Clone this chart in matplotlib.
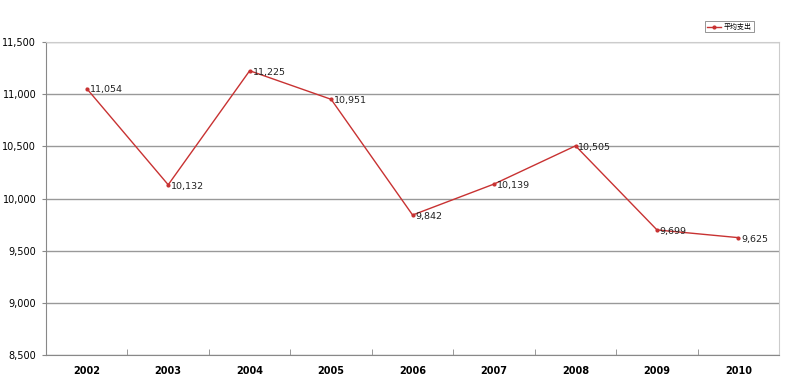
import matplotlib
matplotlib.use("Agg")
import matplotlib.pyplot as plt
from matplotlib.ticker import FuncFormatter, FixedLocator

plt.rcParams['font.family'] = ['DejaVu Sans', 'Noto Sans CJK SC']

years = ["2002", "2003", "2004", "2005", "2006", "2007", "2008", "2009", "2010"]
values = [11054, 10132, 11225, 10951, 9842, 10139, 10505, 9699, 9625]
series_name = "平均支出"

fig = plt.figure(figsize=(8, 3.84), dpi=100)
ax = fig.add_axes([0.0575, 0.0755, 0.9165, 0.815])

x = list(range(len(years)))
ax.plot(x, values, color="#c83232", lw=1.0, marker="o", ms=2, label=series_name, zorder=3)
for xi, v in zip(x, values):
    ax.annotate(f"{v:,}", (xi, v), xytext=(2, -1), textcoords="offset points",
                fontsize=6.8, ha="left", va="center", color="#222222", zorder=4)

ax.set_xlim(-0.5, len(years) - 0.5)
ax.set_ylim(8500, 11500)
ax.set_yticks(range(8500, 11501, 500))
ax.yaxis.set_major_formatter(FuncFormatter(lambda v, p: f"{int(v):,}"))
ax.yaxis.grid(True, color="#999999", lw=1.0)
ax.set_axisbelow(True)

ax.set_xticks(x)
ax.set_xticklabels(years, fontsize=7, fontweight="bold")
ax.tick_params(axis="x", length=0, pad=8)
ax.xaxis.set_minor_locator(FixedLocator([i + 0.5 for i in range(len(years) - 1)]))
ax.tick_params(axis="x", which="minor", direction="in", length=4, color="#888888")
ax.tick_params(axis="y", labelsize=7, length=3, color="#888888", direction="out", pad=4)

for side in ["left", "bottom"]:
    ax.spines[side].set_color("#888888")
for side in ["top", "right"]:
    ax.spines[side].set_color("#cccccc")

leg = ax.legend(loc="lower right", bbox_to_anchor=(0.97, 1.02), fontsize=5,
                frameon=True, fancybox=False, edgecolor="#666666",
                handlelength=2, borderpad=0.3, handletextpad=0.4)
leg.get_frame().set_linewidth(0.6)

fig.savefig("out.png", dpi=100)
